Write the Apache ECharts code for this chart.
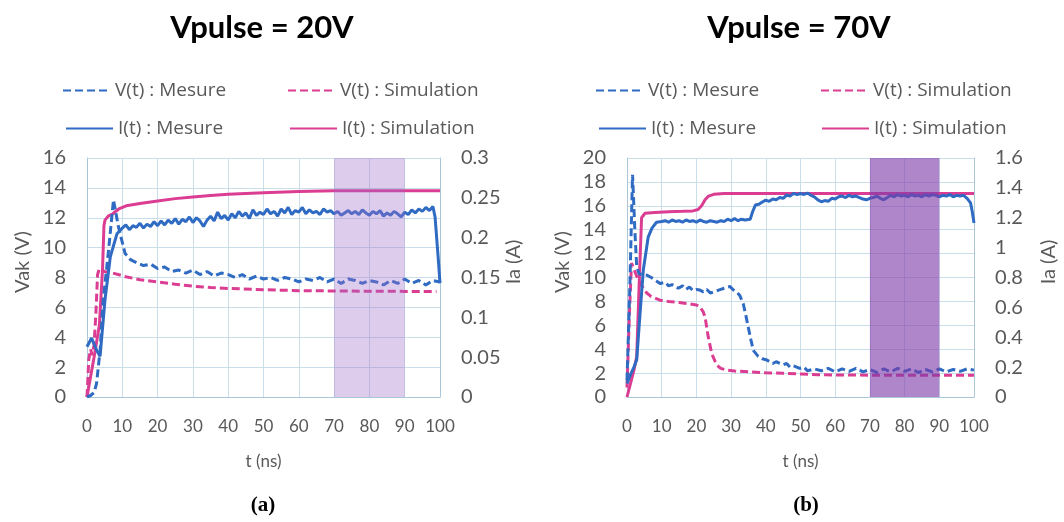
<!DOCTYPE html>
<html>
<head>
<meta charset="utf-8">
<script src="https://cdn.jsdelivr.net/npm/echarts@6/dist/echarts.min.js"></script>
<style>
html,body{margin:0;padding:0;background:#fff;}
#chart{width:1064px;height:522px;}
</style>
</head>
<body>
<div id="chart"></div>
<script>
// ---------- Data: chart (a) Vpulse = 20V ----------
const titleA = 'Vpulse = 20V';
const titleB = 'Vpulse = 70V';
const legendNames = ['V(t) : Mesure', 'V(t) : Simulation', 'I(t) : Mesure', 'I(t) : Simulation'];
const xTicks = [0, 100, 10];
const bandRange = [70, 90];

const tA_Vm = [0,1,2,2.7,3.7,4.6,6.1,7.5,8.9,10.8,12.3,14,16,18,20,22,24,26,28,30,32,34,36,38,40,42,44,46,48,50,52,54,56,58,60,62,64,66,68,70,72,74,76,78,80,82,84,86,88,90,92,94,96,98,100];
const A_Vm  = [0,0.1,0.3,0.9,3.1,6.5,9.8,13.2,11.4,9.6,9.2,9.0,8.8,8.9,8.6,8.7,8.4,8.5,8.3,8.5,8.2,8.4,8.1,8.3,8.2,8.0,8.2,7.9,8.1,7.9,8.0,7.8,8.0,7.9,7.7,7.9,7.8,8.0,7.7,7.9,7.6,7.9,7.8,7.6,7.8,7.7,7.5,7.8,7.6,7.9,7.6,7.8,7.5,7.8,7.7];

const tA_Vs = [0,0.5,1,1.5,2,2.5,3,3.5,4,5,7.3,11,15,20,25,30,35,40,50,60,70,80,90,99];
const A_Vs  = [0,2.5,3.2,2.8,3.5,5.5,8.2,8.6,8.5,8.4,8.3,8.05,7.85,7.7,7.55,7.42,7.33,7.27,7.18,7.12,7.1,7.08,7.07,7.06];

const tA_Im = [0,1.3,2.7,3.7,5.1,6.6,8.5,10,11,12,13,14,15,16,17,18,19,20,21,22,23,24,25,26,27,28,29,30,31,32,33,34,35,36,37,38,39,40,41,42,43,44,45,46,47,48,49,50,51,52,53,54,55,56,57,58,59,60,61,62,63,64,65,66,67,68,69,70,71,72,73,74,75,76,77,78,79,80,81,82,83,84,85,86,87,88,89,90,91,92,93,94,95,96,97,98,98.6,99.6,100];
const A_Im  = [0.063,0.074,0.059,0.051,0.122,0.176,0.205,0.212,0.216,0.210,0.215,0.213,0.218,0.212,0.217,0.214,0.220,0.215,0.221,0.216,0.222,0.218,0.224,0.217,0.223,0.220,0.226,0.219,0.225,0.221,0.214,0.222,0.227,0.221,0.232,0.224,0.228,0.222,0.230,0.225,0.233,0.227,0.231,0.224,0.235,0.228,0.232,0.229,0.236,0.230,0.233,0.227,0.236,0.231,0.238,0.229,0.234,0.232,0.238,0.230,0.235,0.231,0.233,0.229,0.236,0.232,0.234,0.230,0.233,0.228,0.231,0.234,0.230,0.233,0.229,0.235,0.231,0.228,0.233,0.230,0.234,0.227,0.231,0.228,0.233,0.230,0.226,0.232,0.229,0.235,0.231,0.236,0.233,0.238,0.234,0.239,0.226,0.168,0.143];

const tA_Is = [0,2,3.5,4.4,4.8,5.1,6,7.3,9,11.1,15,20,25,30,35,40,50,60,70,80,90,100];
const A_Is  = [0,0.05,0.09,0.16,0.215,0.222,0.227,0.230,0.236,0.240,0.243,0.246,0.249,0.251,0.253,0.2545,0.2565,0.258,0.259,0.259,0.259,0.259];

// ---------- Data: chart (b) Vpulse = 70V ----------
const tB_Vm = [0,0.8,1.6,2.3,2.8,3.5,5.7,7,8,9.5,11,12,13,14.8,16,17,18,19,20,21,22,23,24,25,26,27,28,29,29.7,30.5,31.6,32.5,33.5,34.2,34.9,35.7,36.4,37.8,39,40.3,42,43,45,46,47,48,49.8,51,52,54,56,58,60,62,64,66,68,70,72,74,76,78,80,82,84,86,88,90,92,94,96,98,100];
const B_Vm  = [1.4,9,18.6,13.7,10.9,10.3,10.2,10.0,9.8,9.5,9.6,9.3,9.4,9.1,9.3,9.0,9.2,8.9,9.0,8.95,8.8,9.0,8.7,8.8,8.9,9.0,9.1,9.2,9.25,9.0,8.8,8.5,7.8,6.9,5.9,4.8,3.9,3.4,3.2,3.1,2.8,2.95,2.7,2.8,2.5,2.6,2.4,2.5,2.2,2.35,2.2,2.4,2.1,2.35,2.15,2.4,2.1,2.3,2.05,2.35,2.1,2.4,2.15,2.35,2.05,2.3,2.1,2.35,2.1,2.3,2.15,2.35,2.25];

const tB_Vs = [0,0.7,1.3,2,2.8,4,5.7,7,9.5,12,15,18,20,21,22,22.5,23.4,24.4,25.8,27,28.7,31,35.4,40,45,50,55,60,70,80,90,100];
const B_Vs  = [0.8,7,11.2,10.7,10.1,9.4,8.7,8.4,8.1,8.0,7.9,7.8,7.7,7.55,7.1,6.7,5.05,3.65,2.7,2.4,2.26,2.17,2.1,2.03,1.98,1.92,1.86,1.84,1.83,1.82,1.82,1.82];

const tB_Im = [0,1,2,2.8,3.7,4.7,6.1,7.2,8.5,10,11,12,13,14,15,16,17,18,19,20,21,22,23,24,25,26,27,28,29,30,31,32,33,34,35.5,36.2,37,38,39,40,41,42,43,44,45,46,47,48,49,50,51,52,53,54,55,56,57,58,59,60,61,62,63,64,65,66,67,68,69,70,71,72,73,74,75,76,77,78,79,80,81,82,83,84,85,86,87,88,89,90,91,92,93,94,95,96,97,98,99,99.5,100];
const B_Im  = [0.09,0.15,0.2,0.25,0.54,0.85,1.07,1.13,1.17,1.175,1.18,1.17,1.185,1.175,1.18,1.17,1.185,1.175,1.18,1.17,1.185,1.175,1.17,1.18,1.175,1.17,1.18,1.175,1.19,1.18,1.195,1.18,1.19,1.185,1.19,1.24,1.285,1.29,1.305,1.318,1.31,1.325,1.32,1.335,1.33,1.352,1.345,1.363,1.355,1.362,1.356,1.365,1.35,1.34,1.32,1.307,1.315,1.31,1.33,1.325,1.34,1.345,1.335,1.35,1.34,1.345,1.335,1.325,1.32,1.33,1.335,1.345,1.33,1.32,1.335,1.35,1.34,1.355,1.345,1.35,1.34,1.355,1.345,1.35,1.34,1.355,1.345,1.355,1.35,1.34,1.35,1.345,1.355,1.34,1.35,1.345,1.35,1.33,1.3,1.24,1.165];

const tB_Is = [0,1,2,2.8,3.5,4.2,5.2,8,12,16,19,20.5,21.5,22.5,23.5,25,28,35,50,100];
const B_Is  = [0,0.09,0.18,0.27,0.75,1.2,1.23,1.235,1.24,1.243,1.246,1.255,1.28,1.32,1.345,1.357,1.362,1.363,1.363,1.363];

// ---------- Build ----------
const BLUE = '#2f6bc3', PINK = '#db3d92';
const FONT = 'Lato';
const zip = (t, v) => t.map((x, i) => [x, v[i]]);

function lineSeries(name, gi, yi, t, v, color, dashed) {
  return {
    name: name, type: 'line', xAxisIndex: gi, yAxisIndex: yi,
    data: zip(t, v), symbol: 'none', showSymbol: false, smooth: false,
    lineStyle: { color: color, width: 3, type: dashed ? [8, 4] : 'solid' },
    itemStyle: { color: color }, emphasis: { disabled: true }, z: 3
  };
}
function bandSeries(gi, yi, color) {
  return {
    type: 'line', xAxisIndex: gi, yAxisIndex: yi, data: [], silent: true,
    markArea: { silent: true, z: 10, itemStyle: { color: color }, data: [[{ xAxis: bandRange[0] }, { xAxis: bandRange[1] }]] }
  };
}
const gridColor = '#cadeea', axisColor = '#a9c7d9', labelColor = '#595959';
function xAxis(gi) {
  return {
    type: 'value', gridIndex: gi, min: xTicks[0], max: xTicks[1], interval: xTicks[2],
    name: 't (ns)', nameLocation: 'middle', nameGap: 56,
    nameTextStyle: { fontFamily: FONT, fontSize: 17, color: labelColor },
    axisLine: { lineStyle: { color: axisColor, width: 1 } }, axisTick: { show: false },
    axisLabel: { margin: 21, fontFamily: FONT, fontSize: 17, color: labelColor },
    splitLine: { show: true, lineStyle: { color: gridColor, width: 1 } }
  };
}
function yAxis(gi, pos, max, interval, split) {
  return {
    type: 'value', gridIndex: gi, position: pos, min: 0, max: max, interval: interval,
    axisLine: { show: true, lineStyle: { color: axisColor, width: 1 } }, axisTick: { show: false },
    axisLabel: { margin: 21, fontFamily: FONT, fontSize: 20, color: labelColor },
    splitLine: { show: split, lineStyle: { color: gridColor, width: 1 } }
  };
}
const legCommon = { padding: 0, itemGap: 0, itemWidth: 47, itemHeight: 12, selectedMode: false,
  itemStyle: { opacity: 0, borderWidth: 0 },
  textStyle: { fontFamily: 'Open Sans', fontSize: 19, color: labelColor } };
function leg(name, left, top) { return Object.assign({ data: [name], left: left, top: top }, legCommon); }

function gtext(text, x, y, font, color, rot) {
  return { type: 'text', x: x, y: y, rotation: rot || 0,
    style: { text: text, font: font, fill: color, textAlign: 'center', textVerticalAlign: 'middle' } };
}

const chart = echarts.init(document.getElementById('chart'), null, { renderer: 'canvas' });
chart.setOption({
  animation: false,
  backgroundColor: '#ffffff',
  grid: [
    { left: 87, right: 624, top: 158, bottom: 125 },
    { left: 627, right: 90, top: 158, bottom: 125 }
  ],
  xAxis: [xAxis(0), xAxis(1)],
  yAxis: [
    yAxis(0, 'left', 16, 2, true), yAxis(0, 'right', 0.3, 0.05, false),
    yAxis(1, 'left', 20, 2, true), yAxis(1, 'right', 1.6, 0.2, false)
  ],
  legend: [
    leg(legendNames[0], 62, 81), leg(legendNames[1], 287, 81),
    leg(legendNames[2], 65, 119), leg(legendNames[3], 289, 119),
    leg(legendNames[0], 595, 81), leg(legendNames[1], 820, 81),
    leg(legendNames[2], 598, 119), leg(legendNames[3], 821, 119)
  ],
  series: [
    lineSeries(legendNames[1], 0, 0, tA_Vs, A_Vs, PINK, true),
    lineSeries(legendNames[3], 0, 1, tA_Is, A_Is, PINK, false),
    lineSeries(legendNames[2], 0, 1, tA_Im, A_Im, BLUE, false),
    lineSeries(legendNames[0], 0, 0, tA_Vm, A_Vm, BLUE, true),
    bandSeries(0, 0, 'rgba(160,110,200,0.35)'),
    lineSeries(legendNames[1], 1, 2, tB_Vs, B_Vs, PINK, true),
    lineSeries(legendNames[3], 1, 3, tB_Is, B_Is, PINK, false),
    lineSeries(legendNames[2], 1, 3, tB_Im, B_Im, BLUE, false),
    lineSeries(legendNames[0], 1, 2, tB_Vm, B_Vm, BLUE, true),
    bandSeries(1, 2, 'rgba(128,60,170,0.62)')
  ],
  graphic: [
    gtext(titleA, 262, 28, 'bold 31px Lato', '#000'),
    gtext(titleB, 799, 28, 'bold 31px Lato', '#000'),
    gtext('Vak (V)', 23, 262, '20px Lato', labelColor, Math.PI / 2),
    gtext('Ia (A)', 514, 262, '20px Lato', labelColor, Math.PI / 2),
    gtext('Vak (V)', 563, 262, '20px Lato', labelColor, Math.PI / 2),
    gtext('Ia (A)', 1049, 262, '20px Lato', labelColor, Math.PI / 2),
    gtext('(a)', 263, 506, 'bold 21px "Liberation Serif"', '#000'),
    gtext('(b)', 806, 506, 'bold 21px "Liberation Serif"', '#000')
  ]
});
</script>
</body>
</html>
